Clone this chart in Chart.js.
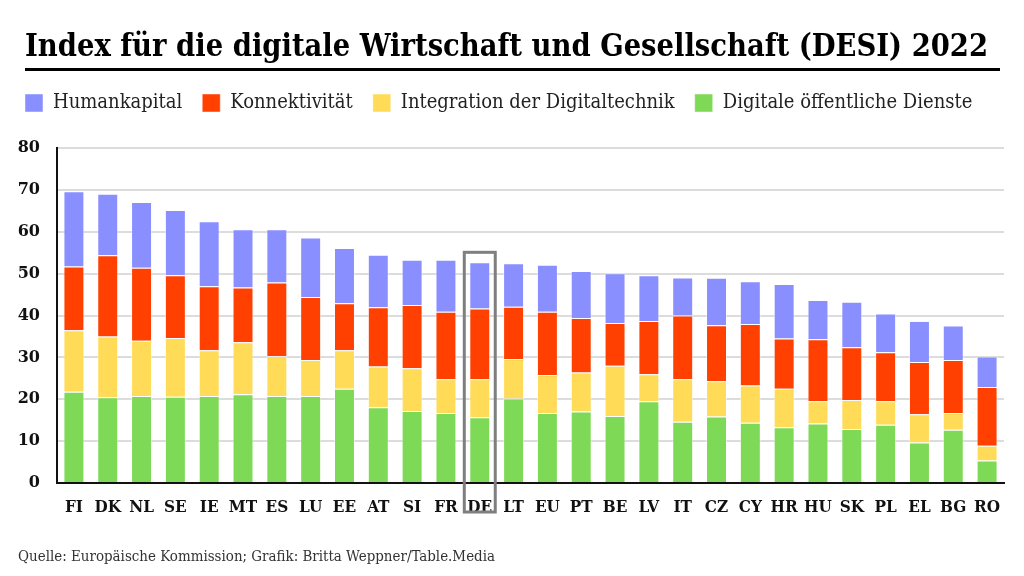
<!DOCTYPE html>
<html lang="de">
<head>
<meta charset="utf-8">
<title>DESI 2022</title>
<script src="https://cdn.jsdelivr.net/npm/chart.js@4.4.1/dist/chart.umd.min.js"></script>
<style>
  html, body { margin: 0; padding: 0; background: #fff; }
  #wrap { position: relative; width: 1024px; height: 576px; overflow: hidden; }
  #titel { position: absolute; left: 25px; top: 27px; font: bold 32px "DejaVu Serif Condensed", "DejaVu Serif", serif; line-height: 36px; white-space: nowrap; transform-origin: 0 0; color: #000; }
  #linie { position: absolute; left: 25px; top: 68px; width: 975px; height: 3px; background: #000; }
  #quelle { position: absolute; left: 18px; top: 547px; font: 15px "DejaVu Serif Condensed", "DejaVu Serif", serif; color: #333; white-space: nowrap; transform-origin: 0 0; }
  canvas { position: absolute; left: 0; top: 0; }
</style>
</head>
<body>
<div id="wrap">
  <canvas id="grafik" width="1024" height="576"></canvas>
  <div id="titel">Index für die digitale Wirtschaft und Gesellschaft (DESI) 2022</div>
  <div id="linie"></div>
  <div id="quelle">Quelle: Europäische Kommission; Grafik: Britta Weppner/Table.Media</div>
</div>
<script>
// Werte (DESI 2022, Teilindizes)
const laender = ['FI','DK','NL','SE','IE','MT','ES','LU','EE','AT','SI','FR','DE','LT','EU','PT','BE','LV','IT','CZ','CY','HR','HU','SK','PL','EL','BG','RO'];
const digitaleDienste = [21.8,20.5,20.8,20.6,20.8,21.2,20.8,20.8,22.5,18.1,17.2,16.7,15.7,20.2,16.7,17.1,16.0,19.5,14.6,15.9,14.4,13.3,14.2,12.9,13.9,9.7,12.7,5.4];
const integration = [14.7,14.5,13.2,14.0,10.9,12.4,9.5,8.6,9.2,9.7,10.2,8.1,9.1,9.4,9.1,9.3,12.0,6.5,10.2,8.4,8.9,9.2,5.3,6.9,5.6,6.7,4.0,3.5];
const konnektivitaet = [15.2,19.4,17.4,15.0,15.3,13.1,17.6,15.0,11.2,14.2,15.1,16.1,16.9,12.5,15.1,13.0,10.2,12.7,15.2,13.4,14.7,12.0,14.8,12.6,11.7,12.5,12.7,14.0];
const humankapital = [18.0,14.7,15.7,15.6,15.5,13.9,12.7,14.2,13.2,12.5,10.8,12.4,11.0,10.4,11.2,11.2,11.9,10.9,9.1,11.3,10.2,13.0,9.4,10.9,9.3,9.8,8.2,7.3];
const yTicks = [0, 10, 20, 30, 40, 50, 60, 70, 80];
const hervorheben = 'DE'; // Land mit Rahmen

const slab = '"DejaVu Serif", serif';
const slabSchmal = '"DejaVu Serif Condensed", "DejaVu Serif", serif';

// Titel und Quelle auf die Breite der Vorlage bringen
function aufBreite(id, breite) {
  const el = document.getElementById(id);
  el.style.transform = 'scaleX(' + (breite / el.getBoundingClientRect().width) + ')';
}
aufBreite('titel', 963);
aufBreite('quelle', 477);

// Abstand unter der Legende vergrößern
const legendeAbstand = {
  id: 'legendeAbstand',
  beforeInit(chart) {
    const fitOrig = chart.legend.fit;
    chart.legend.fit = function() {
      fitOrig.bind(chart.legend)();
      this.height += 25;
    };
  }
};

// Rahmen um Deutschland
const rahmen = {
  id: 'rahmen',
  afterDraw(chart) {
    const i = laender.indexOf(hervorheben);
    const bar = chart.getDatasetMeta(3).data[i];
    const nullY = chart.scales.y.getPixelForValue(0);
    const halb = bar.width / 2 + 5;
    const ctx = chart.ctx;
    ctx.save();
    ctx.strokeStyle = '#7f7f7f';
    ctx.lineWidth = 3;
    ctx.strokeRect(bar.x - halb, bar.y - 10, halb * 2, nullY + 29 - (bar.y - 10));
    ctx.restore();
  }
};

const rand = 'rgba(255,255,255,0.45)';

new Chart(document.getElementById('grafik').getContext('2d'), {
  type: 'bar',
  data: {
    labels: laender,
    datasets: [
      { label: 'Digitale öffentliche Dienste', data: digitaleDienste, backgroundColor: '#7ed957', borderColor: rand, borderWidth: 1 },
      { label: 'Integration der Digitaltechnik', data: integration, backgroundColor: '#ffdb58', borderColor: rand, borderWidth: 1 },
      { label: 'Konnektivität', data: konnektivitaet, backgroundColor: '#ff4000', borderColor: rand, borderWidth: 1 },
      { label: 'Humankapital', data: humankapital, backgroundColor: '#8a8fff', borderColor: rand, borderWidth: 1 }
    ]
  },
  options: {
    responsive: false,
    animation: false,
    barPercentage: 0.62,
    categoryPercentage: 1.0,
    layout: { padding: { top: 73, left: 5, right: 20, bottom: 0 } },
    plugins: {
      legend: {
        position: 'top',
        align: 'start',
        reverse: true,
        labels: {
          boxWidth: 18,
          boxHeight: 18,
          padding: 20,
          color: '#222',
          font: { family: slabSchmal, size: 20 }
        }
      },
      tooltip: { enabled: false }
    },
    scales: {
      x: {
        stacked: true,
        grid: { display: false, drawTicks: false },
        border: { display: true, color: '#111', width: 2 },
        ticks: { color: '#111', padding: 14, maxRotation: 0, minRotation: 0, autoSkip: false, font: { family: slabSchmal, size: 17, weight: 'bold' } },
        afterFit(scale) { scale.height = 93; }
      },
      y: {
        stacked: true,
        min: yTicks[0],
        max: yTicks[yTicks.length - 1],
        afterBuildTicks(scale) { scale.ticks = yTicks.map(v => ({ value: v })); },
        grid: { color: '#dcdcdc', lineWidth: 2, drawTicks: false },
        border: { display: true, color: '#111', width: 2 },
        ticks: { color: '#111', padding: 17, font: { family: slab, size: 16, weight: 'bold' } },
        afterFit(scale) { scale.width = 52; }
      }
    }
  },
  plugins: [legendeAbstand, rahmen]
});
</script>
</body>
</html>
